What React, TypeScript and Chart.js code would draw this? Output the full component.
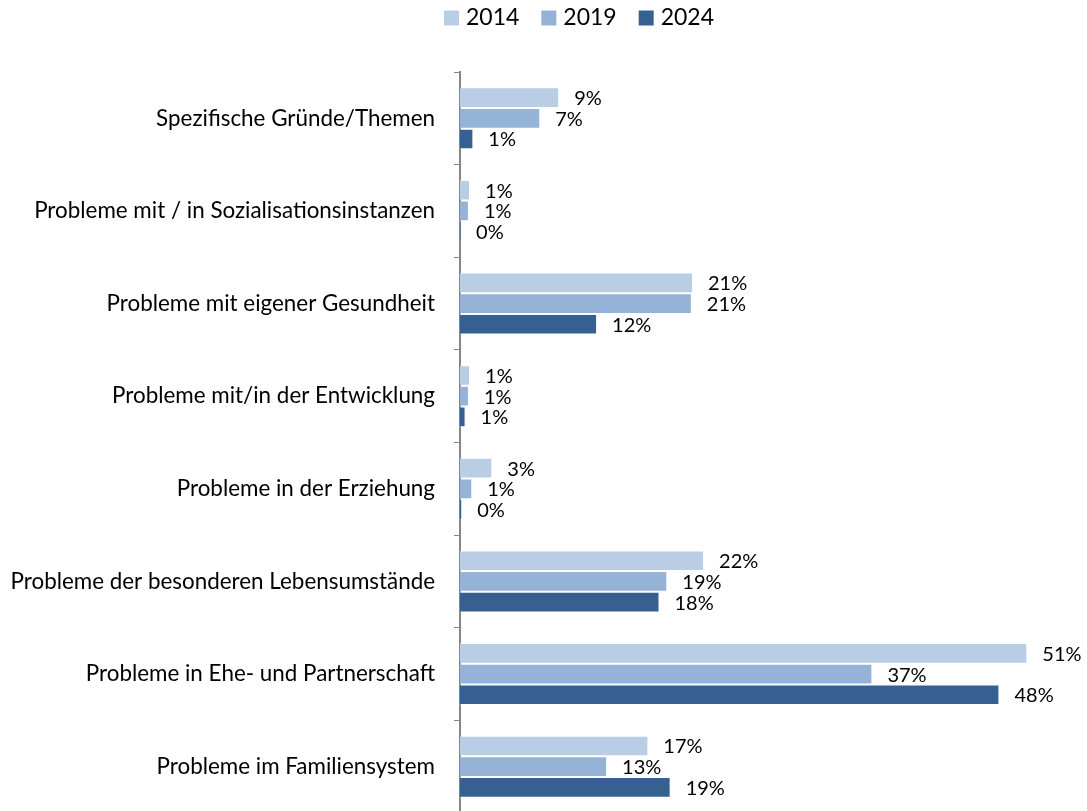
import React, { useEffect, useRef } from "react";
import { Chart, registerables } from "chart.js";

Chart.register(...registerables);

const categories = [
  "Spezifische Gründe/Themen",
  "Probleme mit / in Sozialisationsinstanzen",
  "Probleme mit eigener Gesundheit",
  "Probleme mit/in der Entwicklung",
  "Probleme in der Erziehung",
  "Probleme der besonderen Lebensumstände",
  "Probleme in Ehe- und Partnerschaft",
  "Probleme im Familiensystem",
];

const seriesNames = ["2014", "2019", "2024"];

const values2014 = [8.9, 0.9, 20.9, 0.9, 2.9, 21.9, 50.9, 16.9];
const values2019 = [7.2, 0.8, 20.8, 0.8, 1.1, 18.6, 37.0, 13.2];
const values2024 = [1.2, 0.1, 12.3, 0.5, 0.2, 17.9, 48.4, 18.9];

const labels2014 = ["9%", "1%", "21%", "1%", "3%", "22%", "51%", "17%"];
const labels2019 = ["7%", "1%", "21%", "1%", "1%", "19%", "37%", "13%"];
const labels2024 = ["1%", "0%", "12%", "1%", "0%", "18%", "48%", "19%"];

const colors = ["#B9CDE5", "#95B3D7", "#376092"];
const FONT = "Lato, 'Liberation Sans', sans-serif";
const CAT_SIZE = 22.4;
const LABEL_SIZE = 20;
const LEGEND_SIZE = 23;

export default function App() {
  const ref = useRef<HTMLCanvasElement | null>(null);

  useEffect(() => {
    if (!ref.current) return;
    const valueSets = [values2014, values2019, values2024];
    const labelSets = [labels2014, labels2019, labels2024];

    const dataLabels = {
      id: "dataLabels",
      afterDatasetsDraw(chart: any) {
        const ctx = chart.ctx;
        ctx.save();
        ctx.font = `${LABEL_SIZE}px ${FONT}`;
        ctx.fillStyle = "#000";
        ctx.textBaseline = "middle";
        ctx.textAlign = "left";
        chart.data.datasets.forEach((_: any, i: number) => {
          const meta = chart.getDatasetMeta(i);
          meta.data.forEach((el: any, j: number) => {
            ctx.fillText(labelSets[i][j], el.x + 15, el.y + 1);
          });
        });
        ctx.restore();
      },
    };

    const legendPlugin = {
      id: "customLegend",
      afterDraw(chart: any) {
        const ctx = chart.ctx;
        ctx.save();
        ctx.font = `${LEGEND_SIZE}px ${FONT}`;
        ctx.textBaseline = "middle";
        ctx.textAlign = "left";
        const box = 15;
        const gapBoxText = 7;
        const gapItems = 22;
        const widths = seriesNames.map((n) => box + gapBoxText + ctx.measureText(n).width);
        const total = widths.reduce((a, b) => a + b, 0) + gapItems * (seriesNames.length - 1);
        let x = 579 - total / 2;
        const cy = 18;
        seriesNames.forEach((n, i) => {
          ctx.fillStyle = colors[i];
          ctx.fillRect(x, cy - box / 2, box, box);
          ctx.fillStyle = "#000";
          ctx.fillText(n, x + box + gapBoxText, cy);
          x += widths[i] + gapItems;
        });
        ctx.restore();
      },
    };

    const chart = new Chart(ref.current, {
      type: "bar",
      data: {
        labels: categories,
        datasets: seriesNames.map((name, i) => ({
          label: name,
          data: valueSets[i],
          backgroundColor: colors[i],
          borderColor: "rgba(255,255,255,0.35)",
          borderWidth: 1,
          borderSkipped: "start",
          categoryPercentage: 0.67,
          barPercentage: 1.0,
        })),
      },
      options: {
        indexAxis: "y",
        responsive: false,
        animation: false,
        layout: { padding: { top: 72, right: 14, bottom: 2, left: 0 } },
        plugins: {
          legend: { display: false },
          tooltip: { enabled: false },
        },
        scales: {
          x: {
            display: false,
            min: 0,
            max: 55,
          },
          y: {
            afterFit(scale: any) {
              scale.width = 460;
              scale.paddingTop = 0;
              scale.paddingBottom = 0;
            },
            grid: {
              drawOnChartArea: false,
              color: "#868686",
              tickLength: 6,
              lineWidth: 1,
            },
            border: { display: true, color: "#868686", width: 2 },
            ticks: {
              color: "#000",
              padding: 19,
              font: { family: FONT, size: CAT_SIZE },
            },
          },
        },
      },
      plugins: [dataLabels, legendPlugin],
    } as any);

    return () => chart.destroy();
  }, []);

  return (
    <div
      style={{
        position: "fixed",
        left: 0,
        top: 0,
        width: 1087,
        height: 811,
        overflow: "hidden",
        background: "#fff",
      }}
    >
      <canvas ref={ref} width={1087} height={815} style={{ display: "block" }} />
    </div>
  );
}
